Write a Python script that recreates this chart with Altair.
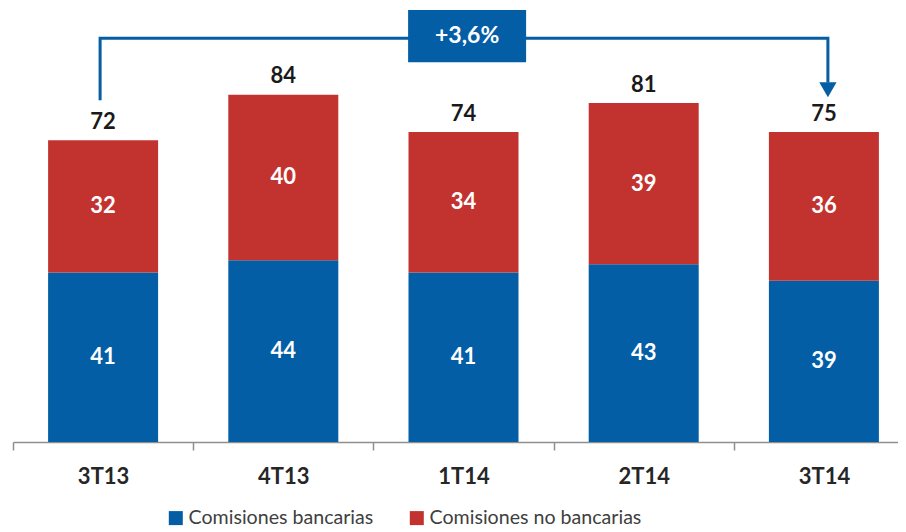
import altair as alt
import pandas as pd

# ---------------- data ----------------
categories = ["3T13", "4T13", "1T14", "2T14", "3T14"]
bancarias = [41, 44, 41, 43, 39]
no_bancarias = [32, 40, 34, 39, 36]
totals = [72, 84, 74, 81, 75]
series_names = ["Comisiones bancarias", "Comisiones no bancarias"]
colors = ["#035EA6", "#C2332F"]
growth_label = "+3,6%"

BLUE, RED = colors
FONT = "Lato"

W, H = 885, 434
STEP = 180.2
X_MIN = -0.5
X_MAX = X_MIN + W / STEP
Y_MAX = 105

rows = []
for i, c in enumerate(categories):
    rows.append({"idx": i, "cat": c, "serie": series_names[0], "ord": 0, "value": bancarias[i]})
    rows.append({"idx": i, "cat": c, "serie": series_names[1], "ord": 1, "value": no_bancarias[i]})
df = pd.DataFrame(rows)

tot_df = pd.DataFrame({
    "idx": list(range(len(categories))),
    "label": totals,
    "top": [b + n for b, n in zip(bancarias, no_bancarias)],
})

xscale = alt.Scale(domain=[X_MIN, X_MAX], nice=False, zero=False, padding=0)
yscale = alt.Scale(domain=[0, Y_MAX], nice=False, zero=True, padding=0)

labels_js = "[" + ",".join(f"'{c}'" for c in categories) + "]"
xaxis = alt.Axis(
    values=[i - 0.5 for i in range(len(categories))],
    labelExpr=f"{labels_js}[round(datum.value + 0.5)]",
    labelOffset=STEP / 2,
    labelFlush=False, labelOverlap=False, labelBound=False,
    grid=False, title=None,
    domainColor="#8F8F8F", domainWidth=1.5,
    tickColor="#8F8F8F", tickWidth=1.5, tickSize=8,
    labelFont=FONT, labelFontSize=22, labelFontWeight="bold",
    labelColor="#262626", labelPadding=26, labelBaseline="middle",
)

base = alt.Chart(df).transform_stack(
    stack="value", groupby=["idx"], as_=["y0", "y1"],
    sort=[alt.SortField("ord", order="ascending")],
).transform_calculate(mid="(datum.y0 + datum.y1) / 2")

bars = base.mark_bar(size=110, orient="vertical").encode(
    x=alt.X("idx:Q", scale=xscale, axis=xaxis),
    y=alt.Y("y0:Q", scale=yscale, axis=None),
    y2="y1:Q",
    color=alt.Color(
        "serie:N",
        scale=alt.Scale(domain=series_names, range=colors),
        legend=alt.Legend(
            orient="none", legendX=153, legendY=500, direction="horizontal",
            title=None, symbolType="square", symbolSize=196, symbolStrokeWidth=0,
            labelFont=FONT, labelFontSize=19.6, labelColor="#404040", labelLimit=400,
            labelOffset=3, columnPadding=33, padding=0,
        ),
    ),
)

seg_text = base.mark_text(
    font=FONT, fontSize=22, fontWeight="bold", color="white", baseline="middle"
).encode(x=alt.X("idx:Q", scale=xscale), y=alt.Y("mid:Q", scale=yscale), text="value:Q")

tot_text = alt.Chart(tot_df).mark_text(
    font=FONT, fontSize=22, fontWeight="bold", color="#1A1A1A", baseline="middle", dy=-18.5
).encode(x=alt.X("idx:Q", scale=xscale), y=alt.Y("top:Q", scale=yscale), text="label:Q")

# growth bracket from first to last period
x_left = 0 - 3 / STEP
x_right = (len(categories) - 1) + 4 / STEP
bracket = pd.DataFrame({
    "x": [x_left, x_left, x_right, x_right],
    "y": [82.7, 97.7, 97.7, 87.0],
    "o": [0, 1, 2, 3],
})
bracket_line = alt.Chart(bracket).mark_line(
    color=BLUE, strokeWidth=3, strokeJoin="miter", strokeCap="butt"
).encode(x=alt.X("x:Q", scale=xscale), y=alt.Y("y:Q", scale=yscale), order="o:Q")

arrow = alt.Chart(pd.DataFrame({"x": [x_right], "y": [85.2]})).mark_point(
    shape="triangle-down", filled=True, size=300, color=BLUE, opacity=1
).encode(x=alt.X("x:Q", scale=xscale), y=alt.Y("y:Q", scale=yscale))

box_df = pd.DataFrame({"x": [2.02], "y0": [91.9], "y1": [104.5], "ym": [98.2], "t": [growth_label]})
box = alt.Chart(box_df).mark_bar(size=118, orient="vertical", color=BLUE).encode(
    x=alt.X("x:Q", scale=xscale), y=alt.Y("y0:Q", scale=yscale), y2="y1:Q"
)
box_text = alt.Chart(box_df).mark_text(
    font=FONT, fontSize=23, fontWeight="bold", color="white", baseline="middle"
).encode(x=alt.X("x:Q", scale=xscale), y=alt.Y("ym:Q", scale=yscale), text="t:N")

chart = alt.layer(
    bars, seg_text, tot_text, bracket_line, arrow, box, box_text
).properties(
    width=W, height=H,
    autosize=alt.AutoSizeParams(type="none"),
    padding={"left": 5, "top": 0, "right": 0, "bottom": 86},
    background="white",
).configure_view(stroke=None)

chart.save("out.html", embed_options={"renderer": "svg", "actions": False})
